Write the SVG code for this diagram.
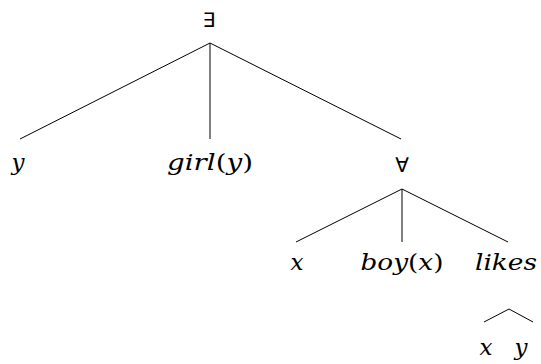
<svg xmlns="http://www.w3.org/2000/svg" width="541" height="364" viewBox="0 0 541 364">
<style>
.t{font-family:"DejaVu Serif",serif;font-style:italic;font-size:23px;fill:#000;text-anchor:middle}
.u{font-style:normal}
.q{font-family:"DejaVu Sans",sans-serif;font-size:20px;fill:#000;text-anchor:middle}
.e line{stroke:#000;stroke-width:1}
</style>
<rect width="541" height="364" fill="#fff"/>
<g class="e" id="connectors">
<line x1="210" y1="43" x2="20" y2="139"/>
<line x1="210" y1="43" x2="210" y2="139"/>
<line x1="210" y1="43" x2="401" y2="139"/>
<line x1="402" y1="189" x2="296" y2="242"/>
<line x1="402" y1="189" x2="402" y2="242"/>
<line x1="402" y1="189" x2="508" y2="242"/>
<line x1="509" y1="309" x2="484" y2="322"/>
<line x1="509" y1="309" x2="533" y2="322"/>
</g>
<g id="n-exists"><text class="q" x="209" y="27">∃</text></g>
<g id="n-y"><text class="t" x="18" y="170">y</text></g>
<g id="n-girl"><text class="t" x="210" y="170" textLength="86" lengthAdjust="spacingAndGlyphs">girl<tspan class="u">(</tspan>y<tspan class="u">)</tspan></text></g>
<g id="n-forall"><text class="q" x="402" y="172">∀</text></g>
<g id="n-x"><text class="t" x="297" y="270">x</text></g>
<g id="n-boy"><text class="t" x="402" y="270" textLength="83" lengthAdjust="spacingAndGlyphs">boy<tspan class="u">(</tspan>x<tspan class="u">)</tspan></text></g>
<g id="n-likes"><text class="t" x="506" y="270" textLength="62" lengthAdjust="spacingAndGlyphs">likes</text></g>
<g id="n-x2"><text class="t" x="486" y="355">x</text></g>
<g id="n-y2"><text class="t" x="521" y="355">y</text></g>
</svg>
